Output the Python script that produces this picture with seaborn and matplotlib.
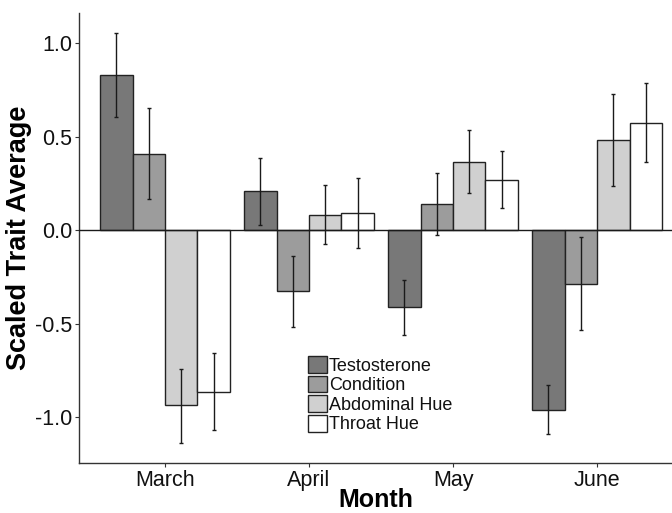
import matplotlib
matplotlib.use("Agg")
import matplotlib.pyplot as plt
import seaborn as sns
import pandas as pd
import numpy as np
from matplotlib.patches import Patch

months = ["March", "April", "May", "June"]
traits = ["Testosterone", "Condition", "Abdominal Hue", "Throat Hue"]
# values per trait, ordered by month
testosterone = [0.83, 0.21, -0.41, -0.96]
condition = [0.41, -0.325, 0.14, -0.285]
abdominal = [-0.935, 0.083, 0.366, 0.484]
throat = [-0.862, 0.094, 0.27, 0.575]
# error bar lower / upper limits
testosterone_lo = [0.607, 0.029, -0.559, -1.09]
testosterone_hi = [1.054, 0.386, -0.265, -0.826]
condition_lo = [0.168, -0.514, -0.024, -0.532]
condition_hi = [0.655, -0.135, 0.306, -0.036]
abdominal_lo = [-1.136, -0.074, 0.202, 0.238]
abdominal_hi = [-0.741, 0.24, 0.536, 0.728]
throat_lo = [-1.067, -0.092, 0.117, 0.363]
throat_hi = [-0.657, 0.279, 0.424, 0.787]
yticks = [-1.0, -0.5, 0.0, 0.5, 1.0]

colors = ["#787878", "#9c9c9c", "#d0d0d0", "#ffffff"]

vals = [testosterone, condition, abdominal, throat]
los = [testosterone_lo, condition_lo, abdominal_lo, throat_lo]
his = [testosterone_hi, condition_hi, abdominal_hi, throat_hi]

rows = []
for t, v, lo, hi in zip(traits, vals, los, his):
    for m, a, b, c in zip(months, v, lo, hi):
        rows.append({"Month": m, "Trait": t, "Value": a, "lo": b, "hi": c})
df = pd.DataFrame(rows)

sns.set_theme(style="white")
plt.rcParams["font.family"] = ["Liberation Sans", "DejaVu Sans"]
plt.rcParams["axes.unicode_minus"] = False
plt.rcParams["text.color"] = "#000000"
plt.rcParams["axes.labelcolor"] = "#000000"

fig = plt.figure(figsize=(6.72, 5.13), dpi=100)
ax = fig.add_axes([0.1176, 0.097, 0.8824, 0.878])

sns.barplot(data=df, x="Month", y="Value", hue="Trait", order=months,
            hue_order=traits, palette=colors, errorbar=None, width=0.9,
            edgecolor="#222222", linewidth=1.0, saturation=1, legend=False, ax=ax)

# error bars at bar centres
patches = ax.patches
for i, t in enumerate(traits):
    for j, m in enumerate(months):
        p = patches[i * len(months) + j]
        xc = p.get_x() + p.get_width() / 2
        r = df[(df.Trait == t) & (df.Month == m)].iloc[0]
        ax.errorbar([xc], [r.Value], yerr=[[r.Value - r.lo], [r.hi - r.Value]],
                    fmt="none", ecolor="#1a1a1a", elinewidth=1.0, capsize=1.5,
                    capthick=1.0, zorder=5)

ax.axhline(0, color="#1a1a1a", lw=1.0, zorder=4)
ax.set_xlim(-0.597, 3.52)
ax.set_ylim(-1.245, 1.163)
ax.set_yticks(yticks)
ax.set_yticklabels([f"{v:.1f}" for v in yticks])
for s in ["top", "right"]:
    ax.spines[s].set_visible(False)
for s in ["left", "bottom"]:
    ax.spines[s].set_color("#333333")
    ax.spines[s].set_linewidth(1.0)
ax.tick_params(axis="both", which="major", length=3, width=0.8, color="#333333",
               labelsize=15.5, labelcolor="#111111", direction="out", bottom=True, left=True)
ax.tick_params(axis="y", pad=2)
ax.tick_params(axis="x", pad=2)
ax.set_xlabel("Month", fontsize=18, fontweight="bold", labelpad=-2, color="#000000")
ax.set_ylabel("Scaled Trait Average", fontsize=19.5, fontweight="bold", labelpad=2, color="#000000")

handles = [Patch(facecolor=c, edgecolor="#222222", linewidth=1.0) for c in colors]
ax.legend(handles, traits, frameon=False, loc="upper left", bbox_to_anchor=(0.386, 0.238),
          fontsize=13, handlelength=1.05, handleheight=1.05, handletextpad=0.1,
          labelspacing=0.06, borderaxespad=0, borderpad=0, labelcolor="#111111")

fig.savefig("out.png", dpi=100)
